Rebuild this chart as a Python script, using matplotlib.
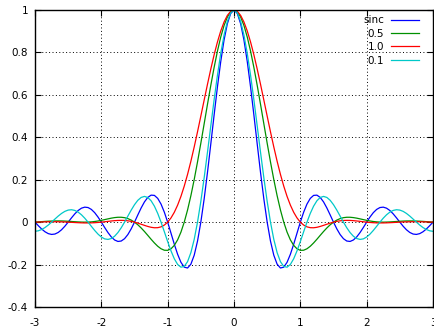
#!/usr/bin/env python3
"""sinc pulse vs raised-cosine pulses (rolloff 0.5, 1.0, 0.1), gnuplot look."""

import matplotlib

matplotlib.use("Agg")
import matplotlib.pyplot as plt

# sample positions
X = [-3.0, -2.95, -2.9, -2.85, -2.8, -2.75, -2.7, -2.65, -2.6, -2.55,
     -2.5, -2.45, -2.4, -2.35, -2.3, -2.25, -2.2, -2.15, -2.1, -2.05,
     -2.0, -1.95, -1.9, -1.85, -1.8, -1.75, -1.7, -1.65, -1.6, -1.55,
     -1.5, -1.45, -1.4, -1.35, -1.3, -1.25, -1.2, -1.15, -1.1, -1.05,
     -1.0, -0.95, -0.9, -0.85, -0.8, -0.75, -0.7, -0.65, -0.6, -0.55,
     -0.5, -0.45, -0.4, -0.35, -0.3, -0.25, -0.2, -0.15, -0.1, -0.05,
     0.0,
     0.05, 0.1, 0.15, 0.2, 0.25, 0.3, 0.35, 0.4, 0.45, 0.5,
     0.55, 0.6, 0.65, 0.7, 0.75, 0.8, 0.85, 0.9, 0.95, 1.0,
     1.05, 1.1, 1.15, 1.2, 1.25, 1.3, 1.35, 1.4, 1.45, 1.5,
     1.55, 1.6, 1.65, 1.7, 1.75, 1.8, 1.85, 1.9, 1.95, 2.0,
     2.05, 2.1, 2.15, 2.2, 2.25, 2.3, 2.35, 2.4, 2.45, 2.5,
     2.55, 2.6, 2.65, 2.7, 2.75, 2.8, 2.85, 2.9, 2.95, 3.0]

SINC = [0, -0.0167, -0.0323, -0.0452, -0.0541, -0.0579, -0.0561, -0.0486, -0.0360, -0.0193,
        0, 0.0201, 0.0390, 0.0548, 0.0658, 0.0707, 0.0688, 0.0599, 0.0446, 0.0240,
        0, -0.0252, -0.0492, -0.0696, -0.0841, -0.0910, -0.0890, -0.0780, -0.0585, -0.0317,
        0, 0.0339, 0.0668, 0.0954, 0.1164, 0.1273, 0.1261, 0.1120, 0.0851, 0.0468,
        0, -0.0518, -0.1039, -0.1515, -0.1892, -0.2122, -0.2162, -0.1981, -0.1559, -0.0894,
        0, 0.1093, 0.2339, 0.3679, 0.5046, 0.6366, 0.7568, 0.8584, 0.9355, 0.9836,
        1,
        0.9836, 0.9355, 0.8584, 0.7568, 0.6366, 0.5046, 0.3679, 0.2339, 0.1093, 0,
        -0.0894, -0.1559, -0.1981, -0.2162, -0.2122, -0.1892, -0.1515, -0.1039, -0.0518, 0,
        0.0468, 0.0851, 0.1120, 0.1261, 0.1273, 0.1164, 0.0954, 0.0668, 0.0339, 0,
        -0.0317, -0.0585, -0.0780, -0.0890, -0.0910, -0.0841, -0.0696, -0.0492, -0.0252, 0,
        0.0240, 0.0446, 0.0599, 0.0688, 0.0707, 0.0658, 0.0548, 0.0390, 0.0201, 0,
        -0.0193, -0.0360, -0.0486, -0.0561, -0.0579, -0.0541, -0.0452, -0.0323, -0.0167, 0]

RC_05 = [0, 0.0012, 0.0024, 0.0035, 0.0045, 0.0052, 0.0057, 0.0058, 0.0056, 0.0050,
         0.0041, 0.0031, 0.0020, 0.0010, 0.0003, 0, 0.0003, 0.0013, 0.0030, 0.0054,
         0.0085, 0.0119, 0.0154, 0.0188, 0.0214, 0.0230, 0.0230, 0.0211, 0.0167, 0.0097,
         0, -0.0124, -0.0273, -0.0441, -0.0622, -0.0806, -0.0981, -0.1136, -0.1255, -0.1324,
         -0.1329, -0.1257, -0.1095, -0.0835, -0.0471, 0, 0.0575, 0.1248, 0.2008, 0.2839,
         0.3722, 0.4634, 0.5551, 0.6445, 0.7289, 0.8057, 0.8724, 0.9268, 0.9670, 0.9917,
         1,
         0.9917, 0.9670, 0.9268, 0.8724, 0.8057, 0.7289, 0.6445, 0.5551, 0.4634, 0.3722,
         0.2839, 0.2008, 0.1248, 0.0575, 0, -0.0471, -0.0835, -0.1095, -0.1257, -0.1329,
         -0.1324, -0.1255, -0.1136, -0.0981, -0.0806, -0.0622, -0.0441, -0.0273, -0.0124, 0,
         0.0097, 0.0167, 0.0211, 0.0230, 0.0230, 0.0214, 0.0188, 0.0154, 0.0119, 0.0085,
         0.0054, 0.0030, 0.0013, 0.0003, 0, 0.0003, 0.0010, 0.0020, 0.0031, 0.0041,
         0.0050, 0.0056, 0.0058, 0.0057, 0.0052, 0.0045, 0.0035, 0.0024, 0.0012, 0]

RC_10 = [0, 0.0005, 0.0010, 0.0014, 0.0018, 0.0020, 0.0020, 0.0018, 0.0014, 0.0008,
         0, -0.0009, -0.0018, -0.0026, -0.0033, -0.0037, -0.0037, -0.0034, -0.0027, -0.0015,
         0, 0.0018, 0.0037, 0.0055, 0.0070, 0.0081, 0.0084, 0.0079, 0.0063, 0.0037,
         0, -0.0046, -0.0098, -0.0152, -0.0202, -0.0243, -0.0265, -0.0261, -0.0222, -0.0137,
         0, 0.0198, 0.0464, 0.0802, 0.1213, 0.1698, 0.2253, 0.2871, 0.3544, 0.4258,
         0.5, 0.5752, 0.6496, 0.7213, 0.7884, 0.8488, 0.9010, 0.9433, 0.9745, 0.9936,
         1,
         0.9936, 0.9745, 0.9433, 0.9010, 0.8488, 0.7884, 0.7213, 0.6496, 0.5752, 0.5,
         0.4258, 0.3544, 0.2871, 0.2253, 0.1698, 0.1213, 0.0802, 0.0464, 0.0198, 0,
         -0.0137, -0.0222, -0.0261, -0.0265, -0.0243, -0.0202, -0.0152, -0.0098, -0.0046, 0,
         0.0037, 0.0063, 0.0079, 0.0084, 0.0081, 0.0070, 0.0055, 0.0037, 0.0018, 0,
         -0.0015, -0.0027, -0.0034, -0.0037, -0.0037, -0.0033, -0.0026, -0.0018, -0.0009, 0,
         0.0008, 0.0014, 0.0018, 0.0020, 0.0020, 0.0018, 0.0014, 0.0010, 0.0005, 0]

RC_01 = [-0.0432, -0.0408, -0.0348, -0.0256, -0.0137, 0, 0.0145, 0.0286, 0.0410, 0.0508,
         0.0568, 0.0585, 0.0553, 0.0473, 0.0348, 0.0187, 0, -0.0198, -0.0392, -0.0565,
         -0.0702, -0.0789, -0.0814, -0.0773, -0.0664, -0.0491, -0.0265, 0, 0.0285, 0.0566,
         0.0822, 0.1029, 0.1164, 0.1213, 0.1162, 0.1008, 0.0754, 0.0412, 0, -0.0454,
         -0.0918, -0.1354, -0.1726, -0.1994, -0.2124, -0.2087, -0.1862, -0.1437, -0.0813, 0,
         0.0979, 0.2090, 0.3291, 0.4533, 0.5760, 0.6918, 0.7953, 0.8815, 0.9462, 0.9864,
         1,
         0.9864, 0.9462, 0.8815, 0.7953, 0.6918, 0.5760, 0.4533, 0.3291, 0.2090, 0.0979,
         0, -0.0813, -0.1437, -0.1862, -0.2087, -0.2124, -0.1994, -0.1726, -0.1354, -0.0918,
         -0.0454, 0, 0.0412, 0.0754, 0.1008, 0.1162, 0.1213, 0.1164, 0.1029, 0.0822,
         0.0566, 0.0285, 0, -0.0265, -0.0491, -0.0664, -0.0773, -0.0814, -0.0789, -0.0702,
         -0.0565, -0.0392, -0.0198, 0, 0.0187, 0.0348, 0.0473, 0.0553, 0.0585, 0.0568,
         0.0508, 0.0410, 0.0286, 0.0145, 0, -0.0137, -0.0256, -0.0348, -0.0408, -0.0432]

SERIES = [("sinc", SINC, "#0000ff"),
          ("0.5", RC_05, "#009000"),
          ("1.0", RC_10, "#ff0000"),
          ("0.1", RC_01, "#00c8c8")]

XTICKS = [-3, -2, -1, 0, 1, 2, 3]
YTICKS = [-0.4, -0.2, 0, 0.2, 0.4, 0.6, 0.8, 1]
YTICK_LABELS = ["-0.4", "-0.2", "0", "0.2", "0.4", "0.6", "0.8", "1"]


def main():
    plt.rcParams["font.family"] = "DejaVu Sans"
    fig = plt.figure(figsize=(4.35, 3.29), dpi=100)
    ax = fig.add_axes([35 / 435, 1 - 307 / 329, 398 / 435, 297 / 329])

    for label, ys, col in SERIES:
        assert len(ys) == len(X), label
        ax.plot(X, ys, color=col, lw=0.9, label=label)

    ax.set_xlim(-3, 3)
    ax.set_ylim(-0.4, 1)
    ax.set_xticks(XTICKS)
    ax.set_xticklabels([str(t) for t in XTICKS])
    ax.set_yticks(YTICKS)
    ax.set_yticklabels(YTICK_LABELS)
    ax.tick_params(direction="in", length=4, width=0.8, labelsize=7.5,
                   top=True, right=True, colors="black")
    ax.tick_params(axis="x", pad=8)
    ax.tick_params(axis="y", pad=5)
    ax.grid(True, color="black", ls=(0, (1, 2.5)), lw=0.7)
    for sp in ax.spines.values():
        sp.set_linewidth(1.0)
        sp.set_color("black")

    ax.legend(loc="upper right", bbox_to_anchor=(1 - 8 / 398, 1 + 1 / 297),
              frameon=False, markerfirst=False, fontsize=7.5,
              handlelength=2.7, handletextpad=0.6, labelspacing=0.33,
              borderaxespad=0.2)

    fig.savefig("out.png", dpi=100)


if __name__ == "__main__":
    main()
